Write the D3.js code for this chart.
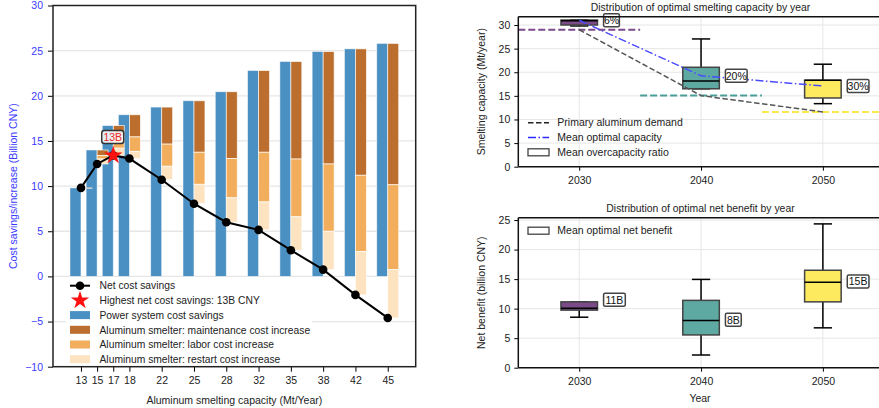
<!DOCTYPE html>
<html><head><meta charset="utf-8">
<script src="https://cdn.jsdelivr.net/npm/d3@7"></script>
<style>
body{margin:0;background:#fff;}
svg text{font-family:"Liberation Sans",Arial,Helvetica,sans-serif;}
</style>
</head><body><svg id="c" width="879" height="408"></svg>
<script>
// ---------- Left chart data ----------
const capacityLabels = ["13","15","17","18","22","25","28","32","35","38","42","45"];
const capacityShare = [0.35,0.40,0.45,0.50,0.60,0.70,0.80,0.90,1.00,1.10,1.20,1.30];
const powerSavings = [9.8,14.0,16.7,17.9,18.75,19.45,20.45,22.8,23.8,24.9,25.2,25.8];
const maintenanceCost = [0.05,0.6,1.2,2.45,4.1,5.7,7.4,9.05,10.8,12.45,14.0,15.65];
const laborCost = [0.0,0.4,1.3,1.6,2.45,3.55,4.35,5.5,6.4,7.45,8.45,9.4];
const restartCost = [0.0,0.55,0.8,0.8,1.5,2.1,2.7,3.1,3.7,4.25,4.8,5.35];
const netSavings = [9.8,12.45,13.4,13.05,10.7,8.05,6.0,5.15,2.9,0.75,-2.05,-4.6];
const leftYTicks = [-10,-5,0,5,10,15,20,25,30];
const leftLegend = ["Net cost savings","Highest net cost savings: 13B CNY","Power system cost savings",
  "Aluminum smelter: maintenance cost increase","Aluminum smelter: labor cost increase","Aluminum smelter: restart cost increase"];

// ---------- Right charts data ----------
const years = [2030, 2040, 2050];
const capWhiskerLow = [29.8, 16.5, 13.35];
const capQ1 = [30.0, 16.5, 14.55];
const capMedian = [30.9, 18.15, 18.3];
const capQ3 = [31.05, 21.05, 18.3];
const capWhiskerHigh = [31.05, 27.05, 21.7];
const primaryDemand = [29.0, 15.05, 11.6];
const meanCapacity = [31.0, 19.25, 17.1];
const overcapacityLabels = ["6%","20%","30%"];
const capYTicks = [0,5,10,15,20,25,30];

const benefitWhiskerLow = [8.55, 2.15, 6.75];
const benefitQ1 = [9.75, 5.55, 11.15];
const benefitMedian = [10.05, 8.0, 14.45];
const benefitQ3 = [11.15, 11.4, 16.5];
const benefitWhiskerHigh = [11.15, 14.95, 24.35];
const meanBenefit = [11.5, 8.1, 14.6];
const benefitLabels = ["11B","8B","15B"];
const benefitYTicks = [0,5,10,15,20,25];

const svg = d3.select("#c");
const FS = 10.5;
const C = {blue:"#4a90c2", maint:"#bb6e2d", labor:"#f2ae5c", restart:"#fde3c0"};
const yearColors = ["#7a4a89","#5eaaa3","#fdea5e"];
const yearLineColors = ["#7b4a8b","#4a9e98","#fde84a"];

// ================= LEFT CHART =================
const L = {l:53, r:415.7, t:5.5, b:366.7};
const x = d3.scaleLinear().domain([0.2634,1.3866]).range([L.l,L.r]);
const y = d3.scaleLinear().domain([-10,30]).range([L.b,L.t]);
const barW = x(0.034)-x(0);
const gL = svg.append("g");

gL.selectAll(".gl").data(leftYTicks.slice(1,-1)).join("line")
  .attr("x1",L.l).attr("x2",L.r).attr("y1",d=>y(d)).attr("y2",d=>y(d))
  .attr("stroke","#e6e6e6").attr("stroke-width",1.3);

gL.append("rect").attr("x",66).attr("y",279).attr("width",246).attr("height",86).attr("fill","#fff").attr("opacity",0.9);

gL.selectAll(".pb").data(powerSavings).join("rect")
  .attr("x",(d,i)=>x(capacityShare[i])-barW).attr("width",barW)
  .attr("y",d=>y(d)).attr("height",d=>y(0)-y(d))
  .attr("fill",C.blue).attr("stroke","#fff").attr("stroke-opacity",0.6).attr("stroke-width",0.8);

const segs = [];
powerSavings.forEach((p,i)=>{
  let top = p;
  [[maintenanceCost[i],C.maint],[laborCost[i],C.labor],[restartCost[i],C.restart]].forEach(([v,col])=>{
    if (v>0) segs.push({i, top, bot: top-v, col});
    top -= v;
  });
});
gL.selectAll(".sb").data(segs).join("rect")
  .attr("x",d=>x(capacityShare[d.i])).attr("width",barW)
  .attr("y",d=>y(d.top)).attr("height",d=>y(d.bot)-y(d.top))
  .attr("fill",d=>d.col).attr("stroke","#fff").attr("stroke-opacity",0.8).attr("stroke-width",0.8);

const line = d3.line().x((d,i)=>x(capacityShare[i])).y(d=>y(d));
gL.append("path").datum(netSavings).attr("d",line).attr("fill","none").attr("stroke","#000").attr("stroke-width",2);
gL.selectAll(".np").data(netSavings).join("circle")
  .attr("cx",(d,i)=>x(capacityShare[i])).attr("cy",d=>y(d)).attr("r",4.3).attr("fill","#000");

const mi = d3.maxIndex(netSavings);
const star = d3.symbol().type(d3.symbolStar).size(105);
gL.append("path").attr("d",star()).attr("transform",`translate(${x(capacityShare[mi])},${y(netSavings[mi])})`).attr("fill","#ff1010");
const lb = gL.append("g").attr("transform",`translate(${x(capacityShare[mi])-0.5},${y(netSavings[mi])-18.5})`);
lb.append("rect").attr("x",-11).attr("y",-6.5).attr("width",22).attr("height",13).attr("rx",2.5)
  .attr("fill","#fff").attr("fill-opacity",0.85).attr("stroke","#333").attr("stroke-width",1.5);
lb.append("text").attr("text-anchor","middle").attr("dy","0.36em").attr("font-size",FS).attr("fill","#e8262a").text(Math.round(netSavings[mi])+"B");

const yAxL = d3.axisLeft(y).tickValues(leftYTicks).tickSize(5).tickPadding(5).tickSizeOuter(0);
const gya = gL.append("g").attr("transform",`translate(${L.l},0)`).call(yAxL);
gya.select(".domain").remove();
gya.selectAll("text").attr("font-size",FS).attr("fill","#3a3aff").attr("font-family","Liberation Sans, Arial, sans-serif");
gya.selectAll("line").attr("stroke","#000");
const xAxL = d3.axisBottom(x).tickValues(capacityShare).tickFormat((d,i)=>capacityLabels[i]).tickSize(5).tickPadding(5).tickSizeOuter(0);
const gxa = gL.append("g").attr("transform",`translate(0,${L.b})`).call(xAxL);
gxa.select(".domain").remove();
gxa.selectAll("text").attr("font-size",FS).attr("fill","#222").attr("font-family","Liberation Sans, Arial, sans-serif");
gL.append("rect").attr("x",L.l).attr("y",L.t).attr("width",L.r-L.l).attr("height",L.b-L.t).attr("fill","none").attr("stroke","#222").attr("stroke-width",1.5);
gL.append("text").attr("x",(L.l+L.r)/2).attr("y",404).attr("text-anchor","middle").attr("font-size",FS).attr("fill","#222").text("Aluminum smelting capacity (Mt/Year)");
gL.append("text").attr("transform",`translate(17,${(L.t+L.b)/2}) rotate(-90)`).attr("text-anchor","middle").attr("font-size",FS).attr("fill","#3a3aff").text("Cost savings/increase (Billion CNY)");

const lgx1 = 70, lgx2 = 90, lgTxt = 99.5, lgY0 = 285.7, lgDy = 14.7;
leftLegend.forEach((t,k)=>{
  const yy = lgY0 + k*lgDy;
  if (k===0){
    gL.append("line").attr("x1",lgx1).attr("x2",lgx2).attr("y1",yy).attr("y2",yy).attr("stroke","#000").attr("stroke-width",2);
    gL.append("circle").attr("cx",(lgx1+lgx2)/2).attr("cy",yy).attr("r",4.3).attr("fill","#000");
  } else if (k===1){
    gL.append("path").attr("d",star()).attr("transform",`translate(${(lgx1+lgx2)/2},${yy})`).attr("fill","#ff1010");
  } else {
    const col = [C.blue,C.maint,C.labor,C.restart][k-2];
    gL.append("rect").attr("x",lgx1).attr("y",yy-4).attr("width",lgx2-lgx1).attr("height",8).attr("fill",col);
  }
  gL.append("text").attr("x",lgTxt).attr("y",yy).attr("dy","0.36em").attr("font-size",10.3).attr("fill","#222").text(t);
});

// ================= RIGHT CHARTS =================
const R = {l:518.3, r:883.8};
const xr = d3.scaleLinear().domain([2025,2055]).range([R.l,R.r]);
const boxW = xr(2033)-xr(2030);
const capW = xr(2031.5)-xr(2030);

function boxPanel(top,bottom,ymax,yticks,stats,title,ylabel,labels,labelVals){
  const yy = d3.scaleLinear().domain([0,ymax]).range([bottom,top]);
  const g = svg.append("g");
  g.selectAll(".hg").data(yticks).join("line").attr("x1",R.l).attr("x2",R.r).attr("y1",d=>yy(d)).attr("y2",d=>yy(d)).attr("stroke","#e6e6e6").attr("stroke-width",1);
  g.selectAll(".vg").data(years).join("line").attr("x1",d=>xr(d)).attr("x2",d=>xr(d)).attr("y1",top).attr("y2",bottom).attr("stroke","#e6e6e6").attr("stroke-width",1);
  const ya = g.append("g").attr("transform",`translate(${R.l},0)`).call(d3.axisLeft(yy).tickValues(yticks).tickSize(4).tickPadding(4).tickSizeOuter(0));
  ya.select(".domain").remove();
  ya.selectAll("text").attr("font-size",FS).attr("fill","#222").attr("font-family","Liberation Sans, Arial, sans-serif");
  const xa = g.append("g").attr("transform",`translate(0,${bottom})`).call(d3.axisBottom(xr).tickValues(years).tickFormat(d3.format("d")).tickSize(4).tickPadding(6).tickSizeOuter(0));
  xa.select(".domain").remove();
  xa.selectAll("text").attr("font-size",FS).attr("fill","#222").attr("font-family","Liberation Sans, Arial, sans-serif");
  g.append("text").attr("x",700.5).attr("y",top-6).attr("text-anchor","middle").attr("font-size",10.4).attr("fill","#222").text(title);
  g.append("text").attr("transform",`translate(485,${(top+bottom)/2}) rotate(-90)`).attr("text-anchor","middle").attr("font-size",FS).attr("fill","#222").text(ylabel);
  return {g,yy,draw:()=>{
    const [wl,q1,md,q3,wh] = stats;
    years.forEach((yr,i)=>{
      const cx = xr(yr);
      g.append("line").attr("x1",cx).attr("x2",cx).attr("y1",yy(wh[i])).attr("y2",yy(q3[i])).attr("stroke","#000").attr("stroke-width",1.5);
      g.append("line").attr("x1",cx).attr("x2",cx).attr("y1",yy(q1[i])).attr("y2",yy(wl[i])).attr("stroke","#000").attr("stroke-width",1.5);
      g.append("line").attr("x1",cx-capW/2).attr("x2",cx+capW/2).attr("y1",yy(wh[i])).attr("y2",yy(wh[i])).attr("stroke","#000").attr("stroke-width",1.5);
      g.append("line").attr("x1",cx-capW/2).attr("x2",cx+capW/2).attr("y1",yy(wl[i])).attr("y2",yy(wl[i])).attr("stroke","#000").attr("stroke-width",1.5);
      g.append("rect").attr("x",cx-boxW/2).attr("width",boxW).attr("y",yy(q3[i])).attr("height",yy(q1[i])-yy(q3[i]))
        .attr("fill",yearColors[i]).attr("stroke","#444").attr("stroke-width",1.5);
      g.append("line").attr("x1",cx-boxW/2).attr("x2",cx+boxW/2).attr("y1",yy(md[i])).attr("y2",yy(md[i])).attr("stroke","#000").attr("stroke-width",1.5);
    });
  }, labels:()=>{
    years.forEach((yr,i)=>{
      const t = labels[i];
      const w = t.length*5.9+4;
      const lg = g.append("g").attr("transform",`translate(${xr(yr+2)},${yy(labelVals[i])})`);
      lg.append("rect").attr("x",0).attr("y",-6.5).attr("width",w).attr("height",13).attr("rx",1.5).attr("fill","#fff").attr("stroke","#444").attr("stroke-width",1.5);
      lg.append("text").attr("x",w/2).attr("text-anchor","middle").attr("dy","0.36em").attr("font-size",FS).attr("fill","#111").text(t);
    });
  }, frame:()=>{
    g.append("line").attr("x1",R.l).attr("x2",R.r).attr("y1",top).attr("y2",top).attr("stroke","#111").attr("stroke-width",1.5);
    g.append("line").attr("x1",R.l).attr("x2",R.r).attr("y1",bottom).attr("y2",bottom).attr("stroke","#111").attr("stroke-width",1.5);
    g.append("line").attr("x1",R.l).attr("x2",R.l).attr("y1",top).attr("y2",bottom).attr("stroke","#111").attr("stroke-width",1.5);
  }};
}

const P1 = boxPanel(16.7,166.7,31.76,capYTicks,[capWhiskerLow,capQ1,capMedian,capQ3,capWhiskerHigh],
  "Distribution of optimal smelting capacity by year","Smelting capacity (Mt/year)",overcapacityLabels,meanCapacity);
years.forEach((yr,i)=>{
  P1.g.append("line").attr("x1",xr(yr-5)).attr("x2",xr(yr+5)).attr("y1",P1.yy(primaryDemand[i])).attr("y2",P1.yy(primaryDemand[i]))
    .attr("stroke",yearLineColors[i]).attr("stroke-width",2).attr("stroke-dasharray","7,3");
});
P1.draw();
const l1 = d3.line().x((d,i)=>xr(years[i])).y(d=>P1.yy(d));
P1.g.append("path").datum(primaryDemand).attr("d",l1).attr("fill","none").attr("stroke","#555").attr("stroke-width",1.5).attr("stroke-dasharray","5.5,2.5");
P1.g.append("path").datum(meanCapacity).attr("d",l1).attr("fill","none").attr("stroke","#4a4aff").attr("stroke-width",1.5).attr("stroke-dasharray","8,2.5,1.5,2.5");
P1.labels();
P1.frame();
const lg1 = [["Primary aluminum demand","dash"],["Mean optimal capacity","dashdot"],["Mean overcapacity ratio","box"]];
lg1.forEach(([t,k],j)=>{
  const yy = 122.7 + j*14.8;
  if (k==="dash") P1.g.append("line").attr("x1",528).attr("x2",549).attr("y1",yy).attr("y2",yy).attr("stroke","#222").attr("stroke-width",1.5).attr("stroke-dasharray","5.5,2.5");
  else if (k==="dashdot") P1.g.append("line").attr("x1",528).attr("x2",549).attr("y1",yy).attr("y2",yy).attr("stroke","#2a2aff").attr("stroke-width",1.5).attr("stroke-dasharray","8,2.5,1.5,2.5");
  else P1.g.append("rect").attr("x",528).attr("y",yy-3.5).attr("width",21).attr("height",7).attr("fill","#fff").attr("stroke","#444").attr("stroke-width",1.3);
  P1.g.append("text").attr("x",557.3).attr("y",yy).attr("dy","0.36em").attr("font-size",FS).attr("fill","#222").text(t);
});

const P2 = boxPanel(217.7,367.7,25.4,benefitYTicks,[benefitWhiskerLow,benefitQ1,benefitMedian,benefitQ3,benefitWhiskerHigh],
  "Distribution of optimal net benefit by year","Net benefit (billion CNY)",benefitLabels,meanBenefit);
P2.draw();
P2.labels();
P2.frame();
P2.g.append("rect").attr("x",528).attr("y",230.7-3.5).attr("width",21).attr("height",7).attr("fill","#fff").attr("stroke","#444").attr("stroke-width",1.3);
P2.g.append("text").attr("x",557.3).attr("y",230.7).attr("dy","0.36em").attr("font-size",FS).attr("fill","#222").text("Mean optimal net benefit");
P2.g.append("text").attr("x",700).attr("y",402).attr("text-anchor","middle").attr("font-size",FS).attr("fill","#222").text("Year");
</script>
</body></html>
